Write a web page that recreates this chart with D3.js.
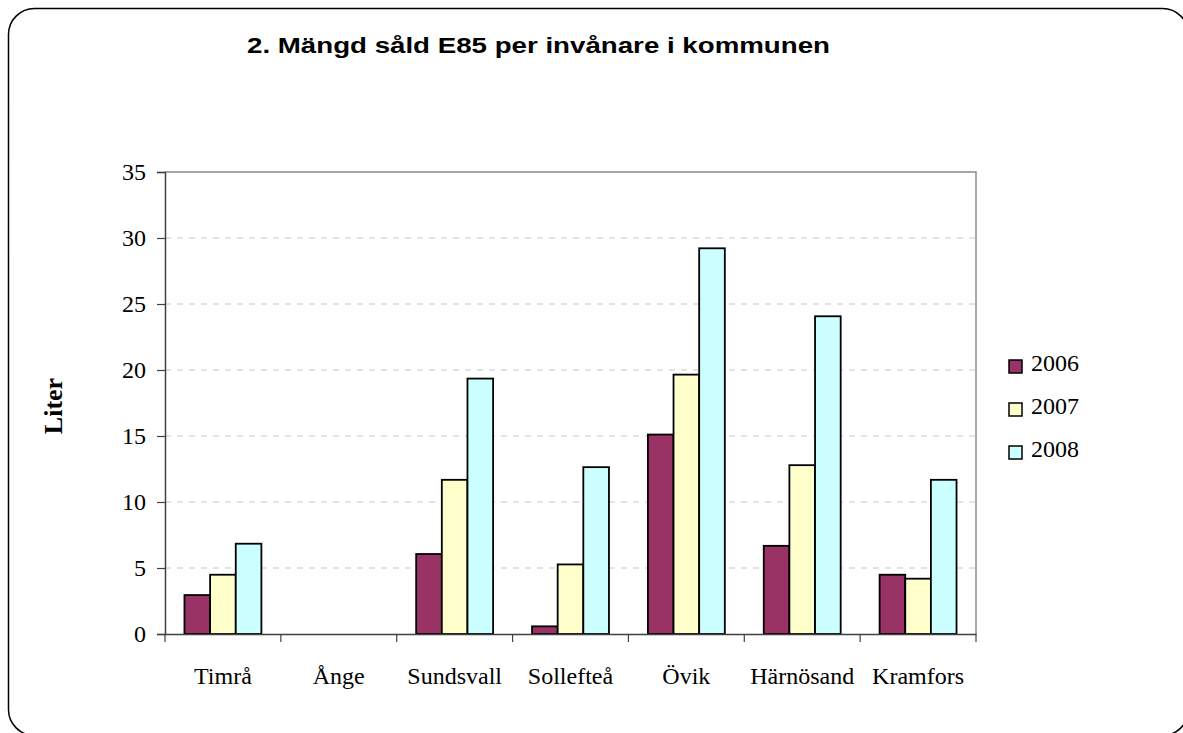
<!DOCTYPE html>
<html>
<head>
<meta charset="utf-8">
<script src="https://cdn.jsdelivr.net/npm/d3@7"></script>
<style>
  body { margin: 0; background: #fff; }
  svg { display: block; }
</style>
</head>
<body>
<svg id="chart" width="1183" height="733"></svg>
<script>
// Data
const kommuner = ["Timrå", "Ånge", "Sundsvall", "Sollefteå", "Övik", "Härnösand", "Kramfors"];
const years = ["2006", "2007", "2008"];
const values2006 = [2.95, 0, 6.06, 0.58, 15.11, 6.68, 4.49];
const values2007 = [4.49, 0, 11.68, 5.27, 19.65, 12.79, 4.19];
const values2008 = [6.84, 0, 19.35, 12.64, 29.22, 24.07, 11.68];
const yTicks = [0, 5, 10, 15, 20, 25, 30, 35];
const colors = ["#993366", "#FFFFCC", "#CCFFFF"];

const series = [values2006, values2007, values2008];
const serif = "'Liberation Serif', 'Times New Roman', serif";

const svg = d3.select("#chart");

// Rounded outer frame
svg.append("rect")
    .attr("x", 8.5).attr("y", 8.5)
    .attr("width", 1180).attr("height", 727)
    .attr("rx", 26).attr("ry", 26)
    .attr("fill", "#fff")
    .attr("stroke", "#000")
    .attr("stroke-width", 1.5);

const plotL = 165, plotR = 976, plotT = 172, plotB = 634;

const x = d3.scaleBand()
    .domain(kommuner)
    .range([plotL, plotR])
    .paddingInner(0.336)
    .paddingOuter(0.168);

// helper scale for category ticks (no padding)
const xCat = d3.scaleBand().domain(kommuner).range([plotL, plotR]);

const xInner = d3.scaleBand()
    .domain(years)
    .range([0, x.bandwidth()]);

const y = d3.scaleLinear().domain([0, 35]).range([plotB, plotT]);

// Gridlines
svg.append("g")
    .selectAll("line")
    .data(yTicks.filter(t => t > 0 && t < 35))
    .join("line")
    .attr("x1", plotL).attr("x2", plotR)
    .attr("y1", d => y(d)).attr("y2", d => y(d))
    .attr("stroke", "#c8c8c8")
    .attr("stroke-width", 1)
    .attr("stroke-dasharray", "6,6");

// Plot frame top and right
svg.append("path")
    .attr("d", `M${plotL},${plotT}H${plotR}V${plotB}`)
    .attr("fill", "none")
    .attr("stroke", "#8c8c8c")
    .attr("stroke-width", 1.5);

// Bars
const groups = svg.append("g")
    .selectAll("g")
    .data(kommuner)
    .join("g")
    .attr("transform", d => `translate(${x(d)},0)`);

groups.selectAll("rect")
    .data((d, i) => years.map((yr, j) => ({ yr, j, v: series[j][i] })))
    .join("rect")
    .filter(d => d.v > 0)
    .attr("x", d => xInner(d.yr))
    .attr("width", xInner.bandwidth())
    .attr("y", d => y(d.v))
    .attr("height", d => plotB - y(d.v))
    .attr("fill", d => colors[d.j])
    .attr("stroke", "#000")
    .attr("stroke-width", 1.8);

// Y axis
const yAxis = svg.append("g")
    .attr("transform", `translate(${plotL},0)`)
    .call(d3.axisLeft(y).tickValues(yTicks).tickSize(8).tickPadding(11));
yAxis.select(".domain").attr("stroke", "#404040").attr("stroke-width", 1.5);
yAxis.selectAll(".tick line").attr("stroke", "#404040").attr("stroke-width", 1.2);
yAxis.selectAll("text")
    .attr("font-family", serif)
    .attr("font-size", "24px")
    .attr("fill", "#000");

// X axis
const xAxis = svg.append("g")
    .attr("transform", `translate(0,${plotB})`)
    .call(d3.axisBottom(xCat).tickSize(0).tickPadding(0).tickFormat(""));
xAxis.select(".domain").attr("stroke", "#404040").attr("stroke-width", 1.5);

const boundaries = kommuner.map(k => xCat(k)).concat([plotR]);
svg.append("g")
    .selectAll("line")
    .data(boundaries)
    .join("line")
    .attr("x1", d => d).attr("x2", d => d)
    .attr("y1", plotB).attr("y2", plotB + 8)
    .attr("stroke", "#404040")
    .attr("stroke-width", 1.2);

svg.append("g")
    .selectAll("text")
    .data(kommuner)
    .join("text")
    .attr("x", d => xCat(d) + xCat.bandwidth() / 2)
    .attr("y", 684)
    .attr("text-anchor", "middle")
    .attr("font-family", serif)
    .attr("font-size", "24px")
    .text(d => d);

// Title
svg.append("text")
    .attr("x", 247)
    .attr("y", 53)
    .attr("textLength", 583)
    .attr("lengthAdjust", "spacingAndGlyphs")
    .attr("font-family", "'Liberation Sans', Arial, sans-serif")
    .attr("font-weight", "bold")
    .attr("font-size", "22px")
    .text("2. Mängd såld E85 per invånare i kommunen");

// Y axis title
svg.append("text")
    .attr("transform", "translate(62,406) rotate(-90)")
    .attr("text-anchor", "middle")
    .attr("font-family", serif)
    .attr("font-weight", "bold")
    .attr("font-size", "26px")
    .text("Liter");

// Legend
const legend = svg.append("g")
    .selectAll("g")
    .data(years)
    .join("g")
    .attr("transform", (d, i) => `translate(1009,${360 + i * 43})`);

legend.append("rect")
    .attr("width", 13).attr("height", 13)
    .attr("fill", (d, i) => colors[i])
    .attr("stroke", "#000")
    .attr("stroke-width", 1.5);

legend.append("text")
    .attr("x", 22)
    .attr("y", 11)
    .attr("font-family", serif)
    .attr("font-size", "24px")
    .text(d => d);
</script>
</body>
</html>
